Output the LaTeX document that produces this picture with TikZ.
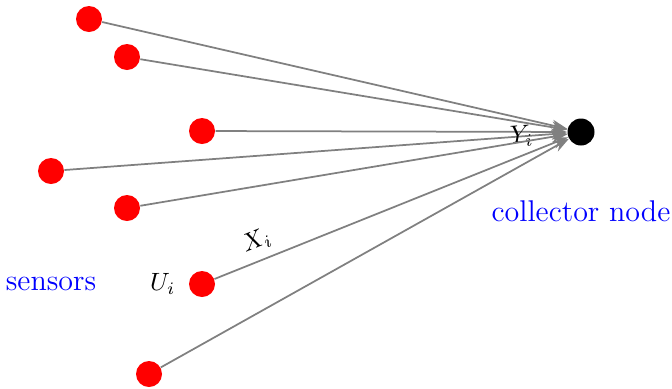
\documentclass[tikz,border=0pt]{standalone}
\usepackage{xcolor}
\usepackage{tikz}
\usetikzlibrary{arrows.meta,positioning}
\definecolor{sensorred}{HTML}{FF0000}
\definecolor{linkgray}{HTML}{808080}
\tikzset{
  >={Stealth[length=2.2mm,width=1.6mm]},
  link/.style={->,line width=0.7pt,draw=linkgray},
  sensor/.style={circle,fill=sensorred,inner sep=0pt,minimum size=10.4pt},
  collector/.style={circle,fill=black,inner sep=0pt,minimum size=10.8pt},
  tag/.style={text=blue,font=\large}
}

\begin{document}
\begin{tikzpicture}[x=0.4pt,y=-0.4pt]
  \useasboundingbox (0,0) rectangle (672,388);
  \node[collector] (col) at (581,132) {};
  \node[sensor] (s1) at (89,19) {};
  \node[sensor] (s2) at (127,57) {};
  \node[sensor] (s3) at (202,131) {};
  \node[sensor] (s4) at (51,171) {};
  \node[sensor] (s5) at (127,208) {};
  \node[sensor] (s6) at (202,284) {};
  \node[sensor] (s7) at (149,374) {};
  \node[tag] (senslab) at (51,284) {sensors};
  \node[tag] (collab) at (581,211) {collector node};
  \node[left=0.6mm of s6] (ulab) {$U_i$};
  \draw[link] (s1)--(col); \draw[link] (s2)--(col); \draw[link] (s3)--(col);
  \draw[link] (s4)-- node[pos=0.91,sloped,inner sep=1pt]{$Y_i$} (col);
  \draw[link] (s5)--(col);
  \draw[link] (s6)-- node[pos=0.14,sloped,above]{$X_i$} (col);
  \draw[link] (s7)--(col);
\end{tikzpicture}
\end{document}
